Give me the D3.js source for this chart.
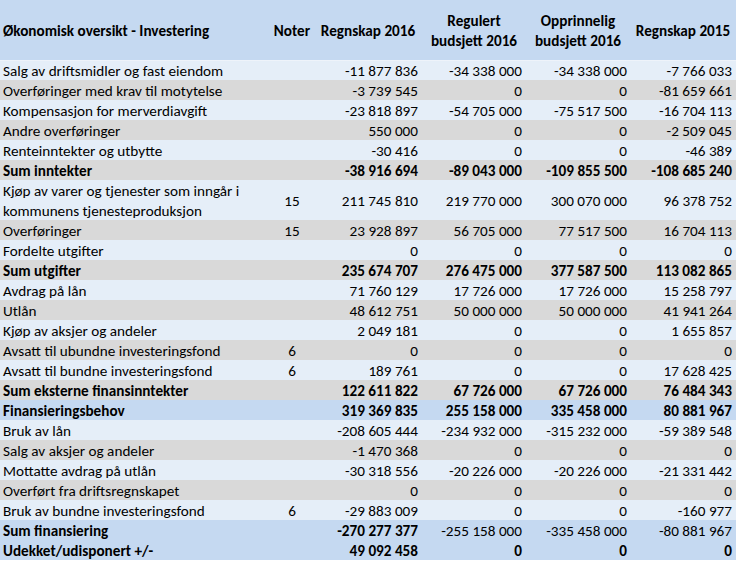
<!DOCTYPE html>
<html><head><meta charset="utf-8">
<script src="https://cdn.jsdelivr.net/npm/d3@7"></script>
<style>
html,body{margin:0;padding:0;background:#fff;}
svg{display:block;font-family:Carlito,Lato,"Open Sans",sans-serif;}
</style></head>
<body><svg id="c" width="736" height="561"></svg>
<script>
const title = "Økonomisk oversikt - Investering";
const columnHeaders = ["Noter", "Regnskap 2016", "Regulert\nbudsjett 2016", "Opprinnelig\nbudsjett 2016", "Regnskap 2015"];
const labels = [
  "Salg av driftsmidler og fast eiendom",
  "Overføringer med krav til motytelse",
  "Kompensasjon for merverdiavgift",
  "Andre overføringer",
  "Renteinntekter og utbytte",
  "Sum inntekter",
  "Kjøp av varer og tjenester som inngår i\nkommunens tjenesteproduksjon",
  "Overføringer",
  "Fordelte utgifter",
  "Sum utgifter",
  "Avdrag på lån",
  "Utlån",
  "Kjøp av aksjer og andeler",
  "Avsatt til ubundne investeringsfond",
  "Avsatt til bundne investeringsfond",
  "Sum eksterne finansinntekter",
  "Finansieringsbehov",
  "Bruk av lån",
  "Salg av aksjer og andeler",
  "Mottatte avdrag på utlån",
  "Overført fra driftsregnskapet",
  "Bruk av bundne investeringsfond",
  "Sum finansiering",
  "Udekket/udisponert +/-"
];
const notes = ["","","","","","","15","15","","","","","","6","6","","","","","","","6","",""];
const regnskap2016 = [-11877836,-3739545,-23818897,550000,-30416,-38916694,211745810,23928897,0,235674707,71760129,48612751,2049181,0,189761,122611822,319369835,-208605444,-1470368,-30318556,0,-29883009,-270277377,49092458];
const regulert2016 = [-34338000,0,-54705000,0,0,-89043000,219770000,56705000,0,276475000,17726000,50000000,0,0,0,67726000,255158000,-234932000,0,-20226000,0,0,-255158000,0];
const opprinnelig2016 = [-34338000,0,-75517500,0,0,-109855500,300070000,77517500,0,377587500,17726000,50000000,0,0,0,67726000,335458000,-315232000,0,-20226000,0,0,-335458000,0];
const regnskap2015 = [-7766033,-81659661,-16704113,-2509045,-46389,-108685240,96378752,16704113,0,113082865,15258797,41941264,1655857,0,17628425,76484343,80881967,-59389548,0,-21331442,0,-160977,-80881967,0];
const totalRows = ["Sum inntekter","Sum utgifter","Sum eksterne finansinntekter","Finansieringsbehov","Sum finansiering","Udekket/udisponert +/-"];
const highlightRows = ["Finansieringsbehov","Sum finansiering","Udekket/udisponert +/-"];

const series = [regnskap2016, regulert2016, opprinnelig2016, regnskap2015];

const W = 736, H = 561;
const headerH = 60, unitH = 20;
const svg = d3.select("#c");
const fmt = d3.formatLocale({decimal:",", thousands:"\u2009", grouping:[3], currency:["",""], minus:"-"}).format(",d");
const fmtNum = v => fmt(v).replace(/\u2009/g, " ");

const units = labels.map(l => l.split("\n").length);
const starts = d3.cumsum([0, ...units]).slice(0, labels.length);
const totalUnits = d3.sum(units);
const y = d3.scaleLinear().domain([0, totalUnits]).range([headerH, headerH + totalUnits * unitH]);

const colors = {header:"#C5D9F1", light:"#E5EEF8", gray:"#D9D9D9", blue:"#C5D9F1"};

let k = 0;
const fills = labels.map(l => {
  if (highlightRows.includes(l)) { k = 0; return colors.blue; }
  const c = (k % 2 === 0) ? colors.light : colors.gray; k++; return c;
});

svg.append("rect").attr("x",0).attr("y",0).attr("width",W).attr("height",headerH).attr("fill",colors.header);
svg.append("g").selectAll("rect").data(labels).join("rect")
  .attr("x",0).attr("width",W)
  .attr("y",(d,i)=>y(starts[i]))
  .attr("height",(d,i)=>y(starts[i]+units[i]) - y(starts[i]))
  .attr("fill",(d,i)=>fills[i]);
svg.append("line").attr("x1",0).attr("x2",W).attr("y1",headerH+0.5).attr("y2",headerH+0.5).attr("stroke","#EEF3FA").attr("stroke-width",1);

const fs = 15.2;
const off = 1;
const hdr = svg.append("g").attr("font-weight","bold").attr("font-size",fs).attr("fill","#000");
hdr.append("text").attr("x",3).attr("y",30+off).attr("dy","0.35em").text(title);
const colCenters = [292, 368, 474, 578, 683];
columnHeaders.forEach((h,i)=>{
  const lines = h.split("\n");
  const t = hdr.append("text").attr("text-anchor","middle");
  lines.forEach((ln,j)=>{
    t.append("tspan").attr("x",colCenters[i]).attr("y", 30 + off + (j - (lines.length-1)/2)*20).attr("dy","0.35em").text(ln);
  });
});

const rightEdges = [418, 522, 627, 732];
const body = svg.append("g").attr("font-size",fs).attr("fill","#000");
labels.forEach((lab,i)=>{
  const bold = totalRows.includes(lab);
  const top = y(starts[i]), bot = y(starts[i]+units[i]), mid = (top+bot)/2 + off;
  const lines = lab.split("\n");
  const t = body.append("text").attr("font-weight", bold ? "bold" : null);
  lines.forEach((ln,j)=>{
    t.append("tspan").attr("x",3).attr("y", mid + (j - (lines.length-1)/2)*unitH).attr("dy","0.35em").text(ln);
  });
  if (notes[i]) body.append("text").attr("x",colCenters[0]).attr("y",mid).attr("dy","0.35em").attr("text-anchor","middle").text(notes[i]);
  series.forEach((s,c)=>{
    const b = bold && !(lab === "Sum finansiering" && c > 0);
    body.append("text").attr("x",rightEdges[c]).attr("y",mid).attr("dy","0.35em")
      .attr("text-anchor","end").attr("font-weight", b ? "bold" : null).text(fmtNum(s[i]));
  });
});
</script></body></html>
